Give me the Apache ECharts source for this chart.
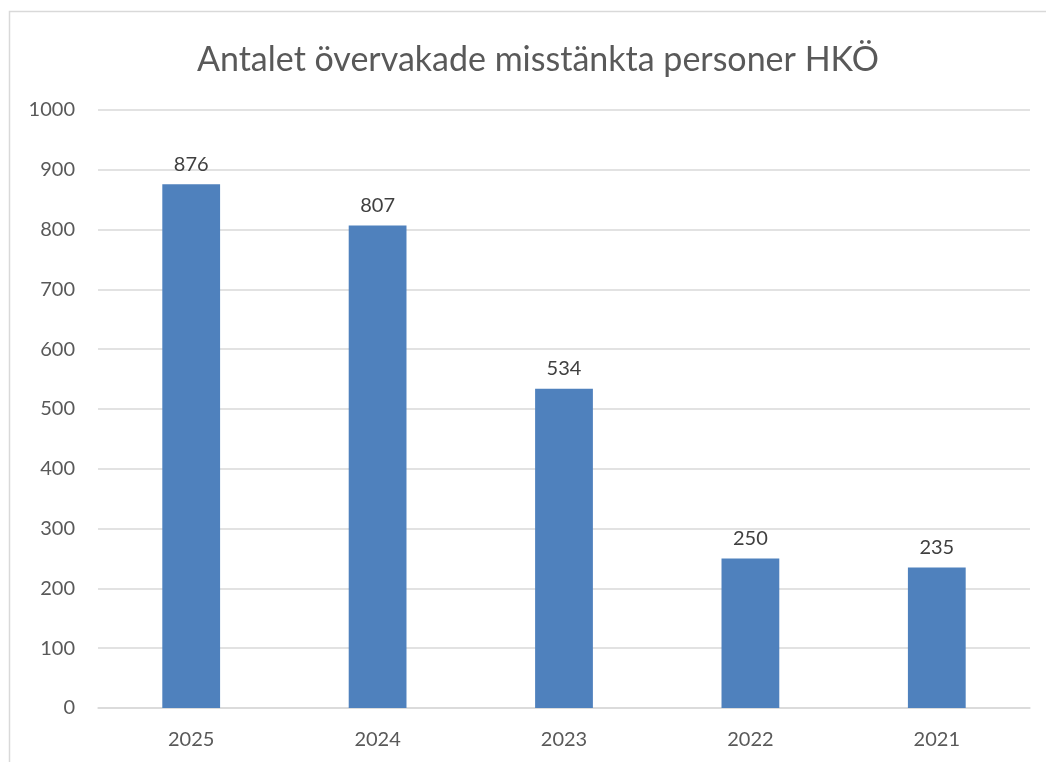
<!DOCTYPE html>
<html>
<head>
<meta charset="utf-8">
<script src="https://cdn.jsdelivr.net/npm/echarts@6/dist/echarts.min.js"></script>
<style>
  html, body { margin: 0; padding: 0; background: #fff; }
  #chart { width: 1046px; height: 762px; }
</style>
</head>
<body>
<div id="chart"></div>
<script>
var title = "Antalet övervakade misstänkta personer HKÖ";
var years = ["2025", "2024", "2023", "2022", "2021"];
var persons = [876, 807, 534, 250, 235];

var myChart = echarts.init(document.getElementById("chart"));
var font = "Lato, 'Open Sans', sans-serif";

myChart.setOption({
  backgroundColor: "#fff",
  animation: false,
  textStyle: { fontFamily: font },
  graphic: [
    {
      type: "rect",
      shape: { x: 9.5, y: 11.5, width: 1100, height: 800 },
      style: { fill: "none", stroke: "#d9d9d9", lineWidth: 1.5 },
      silent: true
    }
  ],
  title: {
    text: title,
    left: 192,
    top: 38,
    textStyle: { fontFamily: font, fontSize: 34, fontWeight: "normal", color: "#595959" }
  },
  grid: { left: 98, right: 16, top: 110, bottom: 54 },
  xAxis: {
    type: "category",
    data: years,
    axisLine: { lineStyle: { color: "#d9d9d9", width: 1.5 } },
    axisTick: { show: false },
    axisLabel: { color: "#595959", fontSize: 20, fontFamily: font, margin: 22 }
  },
  yAxis: {
    type: "value",
    min: 0,
    max: 1000,
    interval: 100,
    axisLine: { show: false },
    axisTick: { show: false },
    splitLine: { lineStyle: { color: "#d9d9d9", width: 1.5 } },
    axisLabel: {
      color: "#595959",
      fontSize: 20,
      fontFamily: font,
      margin: 23,
      formatter: function (v) { return String(v); }
    }
  },
  series: [
    {
      name: "Personer",
      type: "bar",
      data: persons,
      barWidth: "31%",
      itemStyle: { color: "#4f81bd" },
      label: {
        show: true,
        position: "top",
        distance: 10,
        color: "#404040",
        fontSize: 20,
        fontFamily: font
      }
    }
  ]
});
</script>
</body>
</html>
